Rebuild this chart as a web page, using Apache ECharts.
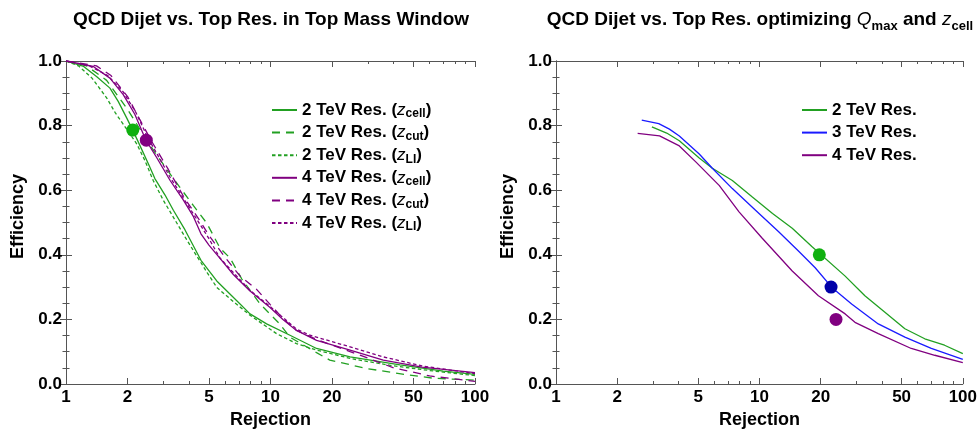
<!DOCTYPE html>
<html>
<head>
<meta charset="utf-8">
<script src="https://cdn.jsdelivr.net/npm/echarts@6/dist/echarts.min.js"></script>
<style>
  html, body { margin: 0; padding: 0; background: #ffffff; }
  #chart { width: 980px; height: 434px; }
</style>
</head>
<body>
<div id="chart"></div>
<script>
// Tick values on the logarithmic rejection axis
const rejectionMajor = [1, 2, 5, 10, 20, 50, 100];
const rejectionMinor = [3, 4, 6, 7, 8, 9, 30, 40, 60, 70, 80, 90];

// Left panel: [rejection, efficiency]
const tev2Cell = [[1,1.0],[1.22,0.983],[1.41,0.952],[1.64,0.916],[1.80,0.875],[1.98,0.824],[2.12,0.786],[2.30,0.738],[2.53,0.681],[2.72,0.636],[3.05,0.585],[3.35,0.538],[3.82,0.477],[4.57,0.383],[5.46,0.319],[6.84,0.258],[7.94,0.217],[9.57,0.186],[12.45,0.151],[16.8,0.110],[24.5,0.084],[43,0.059],[70,0.040],[100,0.030]];
const tev2Cut = [[1,1.0],[1.26,0.985],[1.58,0.940],[2.0,0.850],[2.4,0.770],[2.7,0.720],[3.35,0.636],[4.2,0.552],[4.88,0.498],[5.66,0.421],[6.34,0.390],[7.24,0.325],[8.89,0.248],[11.1,0.186],[12.45,0.145],[16.8,0.097],[19.5,0.074],[29.5,0.048],[45,0.030],[62.5,0.018],[100,0.012]];
const tev2Li = [[1,1.0],[1.15,0.985],[1.34,0.947],[1.58,0.886],[1.74,0.840],[1.98,0.789],[2.22,0.743],[2.43,0.692],[2.67,0.630],[2.99,0.569],[3.41,0.508],[3.89,0.447],[4.36,0.396],[4.9,0.345],[5.46,0.299],[6.58,0.255],[7.94,0.213],[10.7,0.156],[13.4,0.125],[16.8,0.105],[25,0.078],[40,0.056],[63,0.040],[100,0.026]];
const tev4Cell = [[1,1.0],[1.36,0.983],[1.64,0.947],[1.905,0.896],[2.17,0.835],[2.46,0.755],[2.77,0.702],[3.23,0.630],[3.75,0.569],[4.2,0.518],[4.57,0.465],[5.0,0.430],[5.56,0.395],[6.58,0.339],[7.94,0.288],[9.95,0.237],[11.5,0.200],[13.4,0.166],[16.8,0.135],[24.5,0.105],[35.6,0.074],[55,0.052],[100,0.035]];
const tev4Cut = [[1,1.0],[1.41,0.985],[1.66,0.955],[2.0,0.890],[2.29,0.820],[2.63,0.750],[3.16,0.665],[3.8,0.575],[4.47,0.510],[5.0,0.460],[6.03,0.390],[7.08,0.335],[8.55,0.293],[10.0,0.245],[11.56,0.202],[13.4,0.166],[16.8,0.138],[24.5,0.100],[30,0.080],[40,0.050],[60,0.025],[100,0.008]];
const tev4Li = [[1,1.0],[1.3,0.985],[1.6,0.955],[1.9,0.905],[2.2,0.840],[2.5,0.765],[2.8,0.710],[3.23,0.640],[3.75,0.575],[4.36,0.510],[5.0,0.450],[5.66,0.390],[6.58,0.345],[7.94,0.290],[9.95,0.240],[13.4,0.170],[15.6,0.151],[24.5,0.115],[35.6,0.084],[55,0.056],[100,0.032]];
const workingPointsLeft2 = [[2.12, 0.786]];
const workingPointsLeft4 = [[2.47, 0.755]];

// Right panel: [rejection, efficiency]
const res2 = [[2.96,0.796],[3.5,0.777],[4.04,0.753],[5.06,0.700],[5.87,0.668],[7.36,0.630],[9.23,0.579],[11.6,0.528],[14.5,0.482],[18.1,0.426],[26.4,0.334],[33.0,0.273],[41.4,0.222],[51.9,0.171],[65.0,0.140],[81.3,0.120],[100,0.094]];
const res3 = [[2.64,0.817],[3.2,0.806],[3.61,0.789],[4.04,0.768],[5.06,0.712],[5.87,0.668],[7.36,0.605],[9.57,0.538],[12.4,0.472],[15.6,0.411],[18.8,0.360],[22.7,0.299],[28.4,0.248],[38.4,0.186],[51.9,0.145],[70.0,0.110],[100,0.076]];
const res4 = [[2.52,0.776],[3.23,0.768],[4.04,0.737],[4.88,0.687],[6.34,0.615],[7.94,0.533],[10.3,0.452],[14.5,0.350],[19.5,0.273],[26.4,0.217],[29.5,0.191],[38.4,0.156],[55.8,0.110],[72.8,0.089],[100,0.066]];
const workingPointsRight2 = [[19.7, 0.40]];
const workingPointsRight3 = [[22.5, 0.30]];
const workingPointsRight4 = [[23.8, 0.20]];

const FONT = '"Liberation Sans", Arial, Helvetica, sans-serif';
const FRAME = '#555555';
const GREEN = '#22a022';
const PURPLE = '#800080';
const BLUE = '#1a1aff';

const toLog = pts => pts.map(([r, e]) => [Math.log10(r), e]);
const logTicks = vals => vals.map(v => Math.log10(v));

const GRID_TOP = 61, GRID_H = 326.5, GRID_W = 409;
const GRID_LEFT = [66, 556];

function xAxesFor(gi) {
  const base = { type: 'value', gridIndex: gi, min: 0, max: 2, splitLine: { show: false } };
  return [
    Object.assign({}, base, {
      position: 'bottom',
      axisLine: { show: true, lineStyle: { color: FRAME, width: 1 } },
      axisTick: { show: true, inside: true, length: 6, customValues: logTicks(rejectionMajor), lineStyle: { color: FRAME } },
      axisLabel: {
        customValues: logTicks(rejectionMajor),
        formatter: v => String(Math.round(Math.pow(10, v))),
        fontFamily: FONT, fontSize: 17, fontWeight: 'bold', color: '#000', margin: 5
      },
      name: 'Rejection', nameLocation: 'middle', nameGap: 27,
      nameTextStyle: { fontFamily: FONT, fontSize: 18, fontWeight: 'bold', color: '#000' }
    }),
    Object.assign({}, base, {
      position: 'bottom',
      axisLine: { show: false },
      axisTick: { show: true, inside: true, length: 3, customValues: logTicks(rejectionMinor), lineStyle: { color: FRAME } },
      axisLabel: { show: false }
    }),
    Object.assign({}, base, {
      position: 'top',
      axisLine: { show: true, lineStyle: { color: FRAME, width: 1 } },
      axisTick: { show: true, inside: true, length: 6, customValues: logTicks(rejectionMajor), lineStyle: { color: FRAME } },
      axisLabel: { show: false }
    }),
    Object.assign({}, base, {
      position: 'top',
      axisLine: { show: false },
      axisTick: { show: true, inside: true, length: 3, customValues: logTicks(rejectionMinor), lineStyle: { color: FRAME } },
      axisLabel: { show: false }
    })
  ];
}

function yAxesFor(gi) {
  const base = {
    type: 'value', gridIndex: gi, min: 0, max: 1, interval: 0.2,
    splitLine: { show: false },
    axisLine: { show: true, lineStyle: { color: FRAME, width: 1 } },
    axisTick: { show: true, inside: true, length: 6, lineStyle: { color: FRAME } },
    minorTick: { show: true, splitNumber: 4, length: 3.5, lineStyle: { color: FRAME } }
  };
  return [
    Object.assign({}, base, {
      position: 'left',
      axisLabel: {
        formatter: v => v.toFixed(1),
        fontFamily: FONT, fontSize: 17, fontWeight: 'bold', color: '#000', margin: 4
      },
      name: 'Efficiency', nameLocation: 'middle', nameGap: 39,
      nameTextStyle: { fontFamily: FONT, fontSize: 18, fontWeight: 'bold', color: '#000', padding: [0, 0, 0, 12] }
    }),
    Object.assign({}, base, { position: 'right', axisLabel: { show: false } })
  ];
}

function lineSeries(name, data, color, type, xi, yi) {
  return {
    name, type: 'line', data: toLog(data),
    xAxisIndex: xi, yAxisIndex: yi,
    symbol: 'none', showSymbol: false, smooth: false, z: 3,
    lineStyle: { color, width: 1.3, type },
    itemStyle: { color },
    emphasis: { disabled: true }
  };
}

function dotSeries(name, data, color, xi, yi) {
  return {
    name, type: 'scatter', data: toLog(data),
    xAxisIndex: xi, yAxisIndex: yi,
    symbol: 'circle', symbolSize: 13, z: 5,
    itemStyle: { color, opacity: 1 },
    emphasis: { disabled: true }
  };
}

const LONG_DASH = [8, 6];
const SHORT_DASH = [3.5, 2.5];

const leftNames = [
  '2 TeV Res. (z_cell)', '2 TeV Res. (z_cut)', '2 TeV Res. (z_LI)',
  '4 TeV Res. (z_cell)', '4 TeV Res. (z_cut)', '4 TeV Res. (z_LI)'
];
const rightNames = ['2 TeV Res.', '3 TeV Res.', '4 TeV Res.'];

const legendRich = {
  i: { fontFamily: FONT, fontSize: 17, fontStyle: 'italic', fontWeight: 'normal', color: '#000', lineHeight: 20 },
  s: { fontFamily: FONT, fontSize: 12, fontWeight: 'bold', color: '#000', lineHeight: 10, verticalAlign: 'bottom' }
};

function legendFormatter(name) {
  const m = name.match(/^(.*)\(z_(\w+)\)$/);
  return m ? m[1] + '({i|z}{s|' + m[2] + '})' : name;
}

function legendFor(names, left) {
  return {
    data: names, orient: 'vertical', left, top: 100,
    itemWidth: 25, itemHeight: 14, itemGap: 2.6,
    selectedMode: false, padding: 0,
    itemStyle: { opacity: 0, borderWidth: 0 },
    formatter: legendFormatter,
    textStyle: { fontFamily: FONT, fontSize: 17, fontWeight: 'bold', color: '#000', lineHeight: 20, rich: legendRich }
  };
}

const titleRich = {
  i: { fontFamily: FONT, fontSize: 19, fontStyle: 'italic', fontWeight: 'normal', color: '#000', lineHeight: 26 },
  s: { fontFamily: FONT, fontSize: 13, fontWeight: 'bold', color: '#000', lineHeight: 12, verticalAlign: 'bottom' }
};

const option = {
  animation: false,
  backgroundColor: '#ffffff',
  title: [
    {
      text: 'QCD Dijet vs. Top Res. in Top Mass Window',
      left: 271, top: 7, padding: 0, textAlign: 'center',
      textStyle: { fontFamily: FONT, fontSize: 19, fontWeight: 'bold', color: '#000', lineHeight: 26 }
    },
    {
      text: 'QCD Dijet vs. Top Res. optimizing {i|Q}{s|max} and {i|z}{s|cell}',
      left: 760, top: 7, padding: 0, textAlign: 'center',
      textStyle: { fontFamily: FONT, fontSize: 19, fontWeight: 'bold', color: '#000', lineHeight: 26, rich: titleRich }
    }
  ],
  legend: [legendFor(leftNames, 271), legendFor(rightNames, 801)],
  grid: GRID_LEFT.map(l => ({ left: l, top: GRID_TOP, width: GRID_W, height: GRID_H, containLabel: false })),
  xAxis: [...xAxesFor(0), ...xAxesFor(1)],
  yAxis: [...yAxesFor(0), ...yAxesFor(1)],
  series: [
    lineSeries(leftNames[0], tev2Cell, GREEN, 'solid', 0, 0),
    lineSeries(leftNames[1], tev2Cut, GREEN, LONG_DASH, 0, 0),
    lineSeries(leftNames[2], tev2Li, GREEN, SHORT_DASH, 0, 0),
    lineSeries(leftNames[3], tev4Cell, PURPLE, 'solid', 0, 0),
    lineSeries(leftNames[4], tev4Cut, PURPLE, LONG_DASH, 0, 0),
    lineSeries(leftNames[5], tev4Li, PURPLE, SHORT_DASH, 0, 0),
    dotSeries('2 TeV point', workingPointsLeft2, '#0fb00f', 0, 0),
    dotSeries('4 TeV point', workingPointsLeft4, PURPLE, 0, 0),
    lineSeries(rightNames[0], res2, GREEN, 'solid', 4, 2),
    lineSeries(rightNames[1], res3, BLUE, 'solid', 4, 2),
    lineSeries(rightNames[2], res4, PURPLE, 'solid', 4, 2),
    dotSeries('2 TeV optimum', workingPointsRight2, '#0fb00f', 4, 2),
    dotSeries('3 TeV optimum', workingPointsRight3, '#0000a8', 4, 2),
    dotSeries('4 TeV optimum', workingPointsRight4, PURPLE, 4, 2)
  ]
};

const chart = echarts.init(document.getElementById('chart'), null, { renderer: 'canvas' });
chart.setOption(option);
</script>
</body>
</html>
